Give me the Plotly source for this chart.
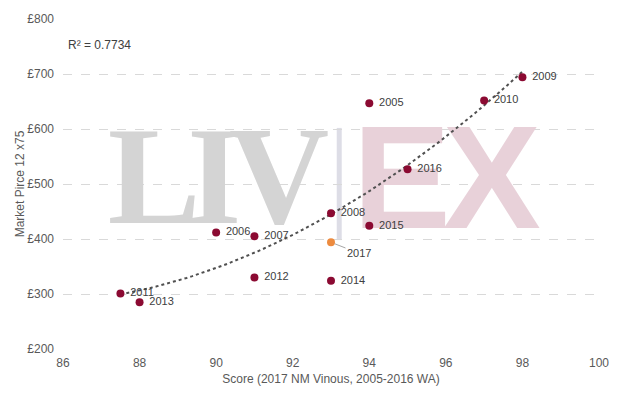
import numpy as np
import plotly.graph_objects as go

years = ["2005", "2006", "2007", "2008", "2009", "2010", "2011", "2012", "2013", "2014", "2015", "2016"]
scores = [94, 90, 91, 93, 98, 97, 87.5, 91, 88, 93, 94, 95]
prices = [647, 412, 405, 447, 694, 652, 301, 330, 285, 324, 424, 527]

year_2017 = "2017"
score_2017 = 93
price_2017 = 394

x_ticks = [86, 88, 90, 92, 94, 96, 98, 100]
y_ticks = [200, 300, 400, 500, 600, 700, 800]
y_tick_text = ["£200", "£300", "£400", "£500", "£600", "£700", "£800"]
r2_text = "R² = 0.7734"

# Polynomial (order 2) trendline fitted to the 2005-2016 points
coef = np.polyfit(scores, prices, 2)
tx = np.linspace(min(scores), max(scores), 80)
ty = np.polyval(coef, tx)

FONT = "Liberation Sans, Arial"

fig = go.Figure()

# Liv-ex watermark (decoration, drawn first so it sits under the data)
fig.add_shape(type="rect", x0=93.15, x1=93.28, y0=398, y1=602,
              fillcolor="#dddde6", line_width=0, layer="below")
fig.add_trace(go.Scatter(x=[88.38, 89.95, 91.64], y=[492, 492, 492], mode="text",
                         text=["<b>L</b>", "<b>I</b>", "<b>V</b>"], textposition="middle center",
                         textfont=dict(family="Liberation Serif", size=139, color="#d4d4d4"),
                         hoverinfo="skip", showlegend=False))
fig.add_trace(go.Scatter(x=[94.85, 97.2], y=[486, 486], mode="text",
                         text=["<b>E</b>", "<b>X</b>"], textposition="middle center",
                         textfont=dict(family="Liberation Sans", size=147, color="#e8d1d9"),
                         hoverinfo="skip", showlegend=False))

fig.add_trace(go.Scatter(x=tx, y=ty, mode="lines", line=dict(color="#505050", width=2, dash="dot"),
                         hoverinfo="skip", showlegend=False))

# data labels (transparent wider marker gives the label gap)
fig.add_trace(go.Scatter(x=scores, y=prices, mode="markers+text", text=years,
                         textposition="middle right",
                         textfont=dict(family=FONT, size=11, color="#404040"),
                         marker=dict(color="rgba(0,0,0,0)", size=14), hoverinfo="skip",
                         showlegend=False))
fig.add_trace(go.Scatter(x=scores, y=prices, mode="markers",
                         marker=dict(color="#8b0a32", size=8), showlegend=False))

fig.add_trace(go.Scatter(x=[score_2017], y=[price_2017], mode="markers",
                         marker=dict(color="#ed8b3f", size=8), showlegend=False))
fig.add_annotation(x=score_2017, y=price_2017, text=year_2017, showarrow=True, arrowhead=0,
                   arrowwidth=1, arrowcolor="#a6a6a6", ax=28, ay=11, xanchor="center",
                   standoff=4, font=dict(family=FONT, size=11, color="#404040"))

fig.add_annotation(text=r2_text, xref="paper", yref="paper", x=0.006, y=0.92, xanchor="left",
                   yanchor="middle", showarrow=False,
                   font=dict(family=FONT, size=12, color="#404040"))

fig.update_layout(
    width=620, height=388,
    margin=dict(l=55, r=29, t=11, b=47),
    paper_bgcolor="white", plot_bgcolor="white",
    font=dict(family=FONT, size=12, color="#595959"),
    xaxis=dict(range=[86, 100], tickvals=x_ticks, showgrid=False, zeroline=False, showline=False,
               ticks="", automargin=False, ticklabelstandoff=5,
               title=dict(text="Score (2017 NM Vinous, 2005-2016 WA)", standoff=5,
                          font=dict(size=12, color="#595959"))),
    yaxis=dict(range=[200, 800], tickvals=y_ticks, ticktext=y_tick_text, showgrid=True,
               gridcolor="#d9d9d9", griddash="dash", gridwidth=1, zeroline=False, showline=False,
               ticks="", ticklabelstandoff=8, automargin=False,
               title=dict(text="Market Pirce 12 x75", standoff=0, font=dict(size=12, color="#595959"))),
)

fig.write_html("out.html")
